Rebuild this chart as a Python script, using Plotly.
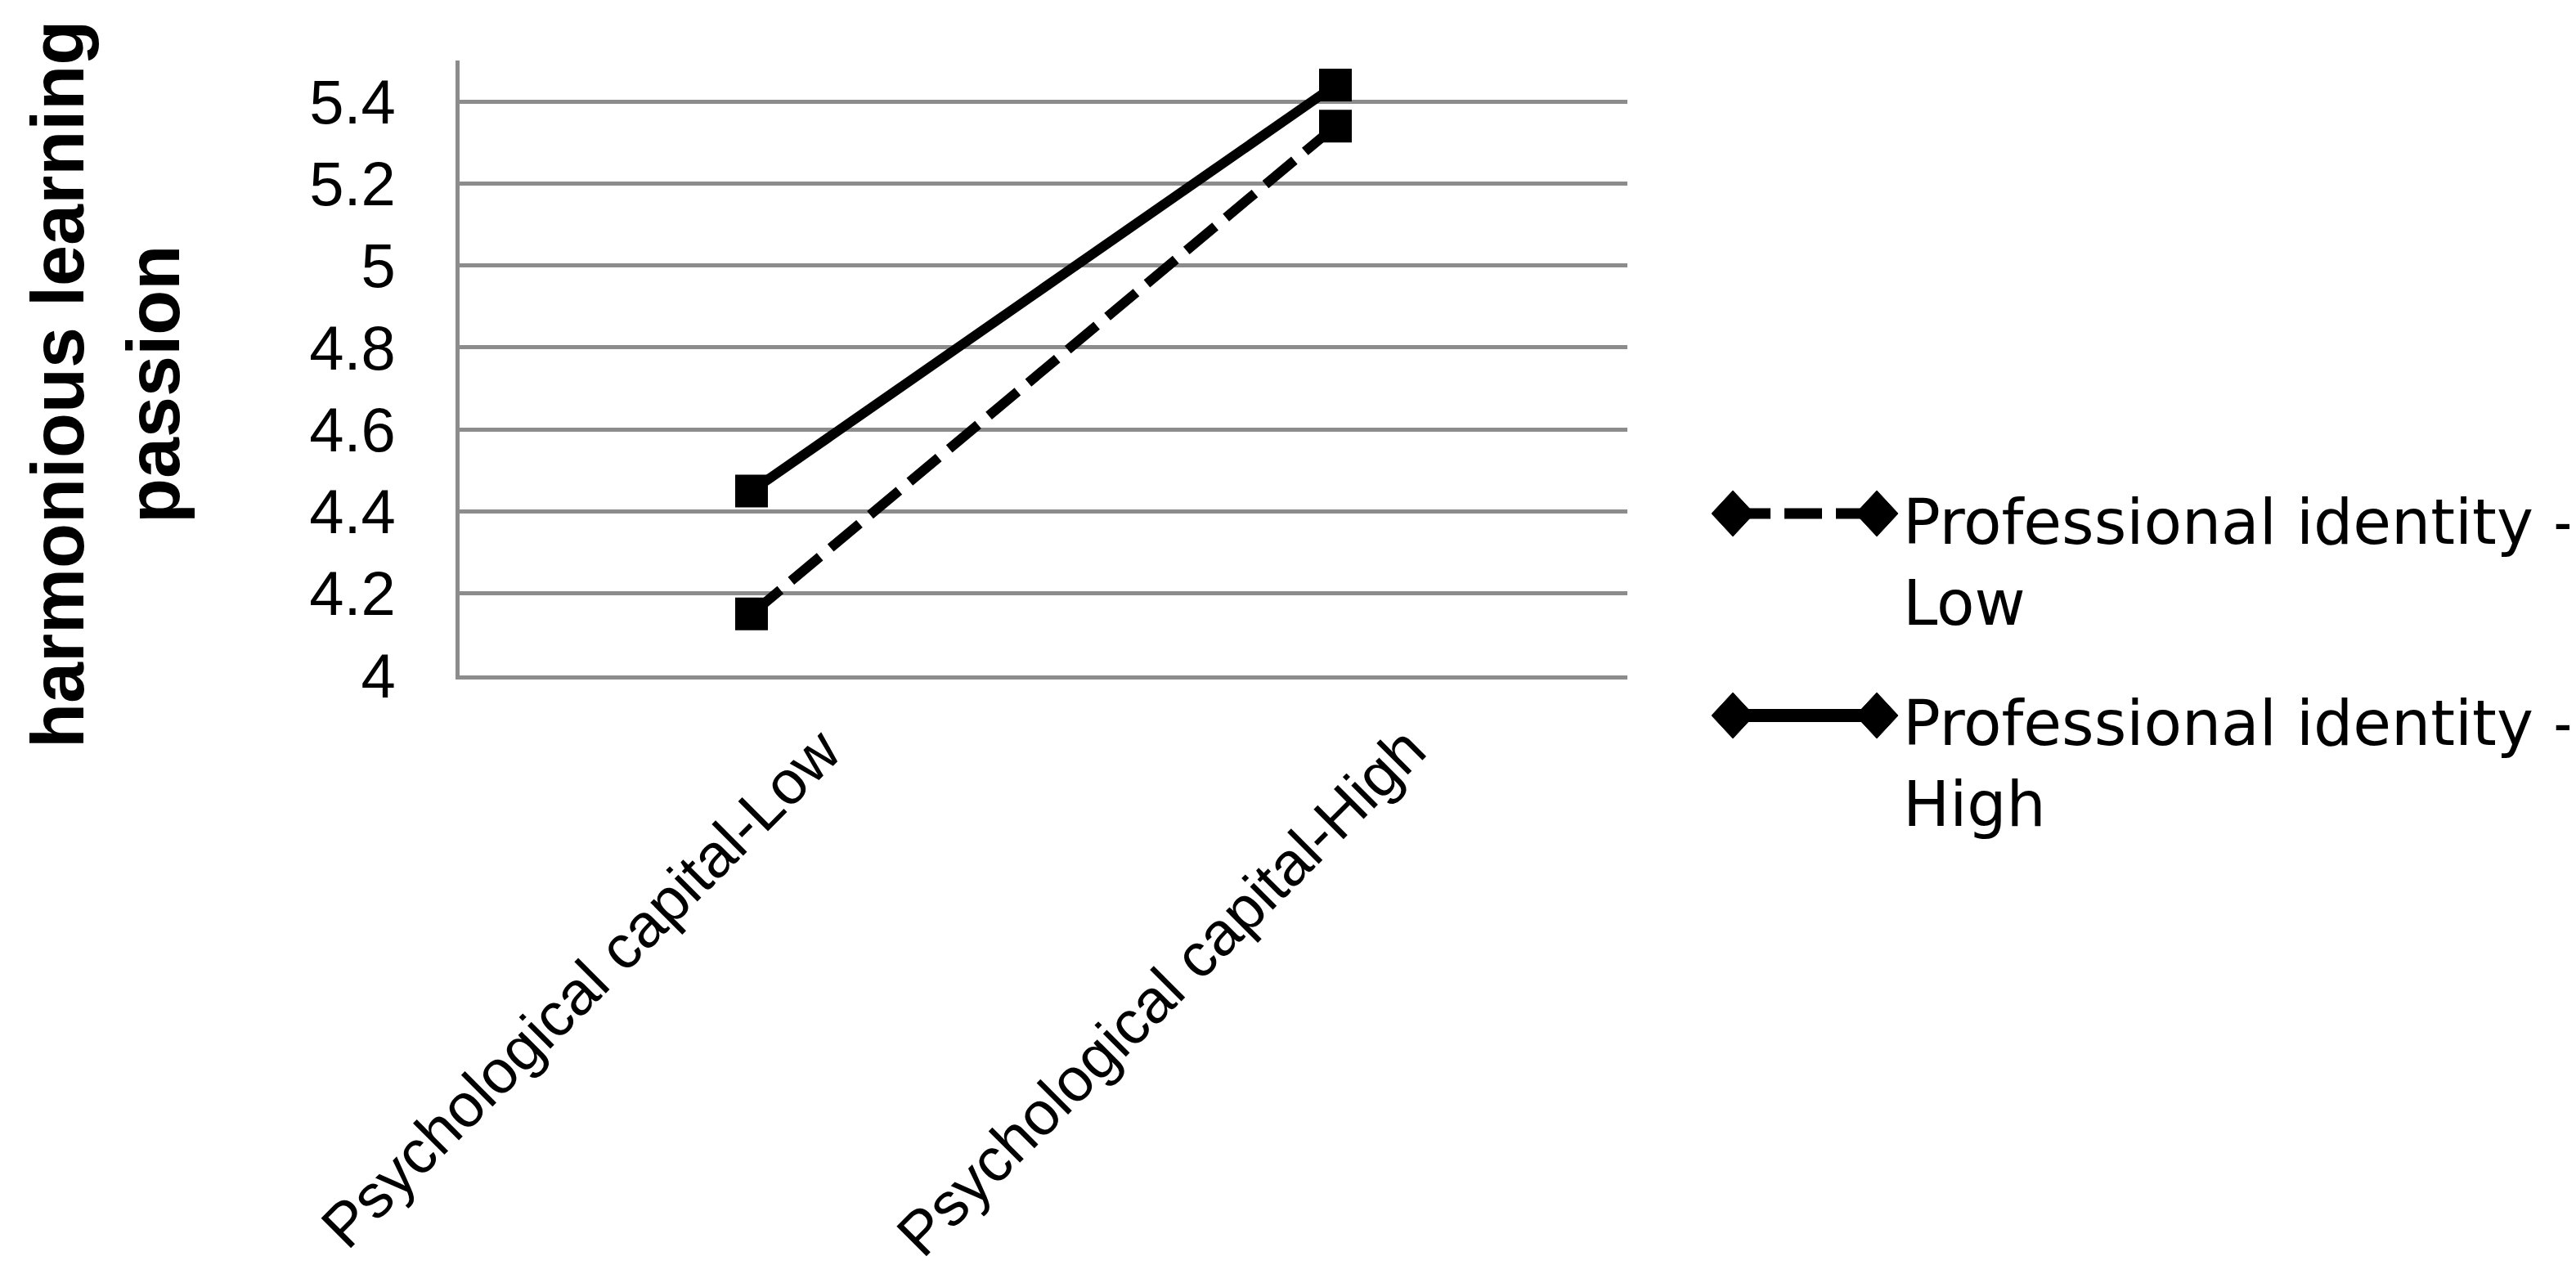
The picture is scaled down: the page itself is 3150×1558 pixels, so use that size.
import plotly.graph_objects as go

# ---- data ----
categories = ["Psychological capital-Low", "Psychological capital-High"]
series_names = ["Professional identity - Low", "Professional identity - High"]
pi_low = [4.15, 5.34]
pi_high = [4.45, 5.44]
y_tick_vals = [4.0, 4.2, 4.4, 4.6, 4.8, 5.0, 5.2, 5.4]
y_tick_text = ["4", "4.2", "4.4", "4.6", "4.8", "5", "5.2", "5.4"]
y_title = "harmonious learning<br>passion"

# ---- layout geometry (pixels) ----
W, H = 3150, 1558
PL, PR, PT, PB = 554, 1982, 66, 818
GRID = "#8c8c8c"


def px_x(px):
    return (px - PL) / (PR - PL)


def px_y(py):
    return (PB - py) / (PB - PT)


styles = [
    dict(dash="46px,17px", width=12, leg_width=13),
    dict(dash="solid", width=12, leg_width=16),
]

fig = go.Figure()
for name, vals, st in zip(series_names, [pi_low, pi_high], styles):
    fig.add_trace(go.Scatter(
        x=categories, y=vals, mode="lines+markers", name=name,
        line=dict(color="black", width=st["width"], dash=st["dash"]),
        marker=dict(symbol="square", size=40, color="black"),
        showlegend=False,
    ))

fig.update_layout(
    width=W, height=H,
    margin=dict(l=PL, r=W - PR, t=PT, b=H - PB, pad=0),
    paper_bgcolor="white", plot_bgcolor="white",
    showlegend=False,
)
fig.update_xaxes(
    type="category", range=[-0.5, 1.5], showticklabels=False,
    showgrid=False, zeroline=False, showline=True, linecolor=GRID, linewidth=5,
    ticks="",
)
fig.update_yaxes(
    range=[4.0, 5.5], tickvals=y_tick_vals, ticktext=y_tick_text,
    showgrid=True, gridcolor=GRID, gridwidth=5, zeroline=False,
    showline=True, linecolor=GRID, linewidth=5, ticks="",
    tickfont=dict(family="Liberation Sans", size=76, color="black"),
    ticklabelstandoff=58,
)

annotations = []
# rotated category labels
for cat in categories:
    annotations.append(dict(
        x=cat, xref="x", y=0, yref="paper", text=cat, showarrow=False,
        textangle=-45, xanchor="right", yanchor="top", xshift=128, yshift=-45,
        font=dict(family="Liberation Sans", size=75, color="black"),
    ))
# y axis title
annotations.append(dict(
    x=px_x(121), y=px_y(462), xref="paper", yref="paper",
    text="<b>" + y_title.replace("<br>", "</b><br><b>") + "</b>",
    showarrow=False, textangle=-90, xanchor="center", yanchor="middle",
    font=dict(family="Liberation Sans", size=90, color="black"),
))

# custom legend
shapes = []
leg_rows = [620, 867]
leg_text_mid = [680, 926]
lx0, lx1, ltext = 2111, 2287, 2317
dw, dh = 26, 28
for name, st, ly, tm in zip(series_names, styles, leg_rows, leg_text_mid):
    shapes.append(dict(
        type="line", xref="paper", yref="paper",
        x0=px_x(lx0), x1=px_x(lx1), y0=px_y(ly), y1=px_y(ly),
        line=dict(color="black", width=st["leg_width"], dash=st["dash"]),
    ))
    for cx in (lx0, lx1):
        path = "M {a},{b} L {c},{d} L {e},{b} L {c},{f} Z".format(
            a=px_x(cx - dw), b=px_y(ly), c=px_x(cx), d=px_y(ly - dh),
            e=px_x(cx + dw), f=px_y(ly + dh))
        shapes.append(dict(type="path", xref="paper", yref="paper", path=path,
                           fillcolor="black", line=dict(color="black", width=1)))
    annotations.append(dict(
        x=px_x(ltext), y=px_y(tm), xref="paper", yref="paper",
        text=name.replace(" - ", " -<br>"), showarrow=False, align="left",
        xanchor="left", yanchor="middle",
        font=dict(family="DejaVu Sans", size=76, color="black"),
    ))

fig.update_layout(annotations=annotations, shapes=shapes)
fig.write_html("out.html")
